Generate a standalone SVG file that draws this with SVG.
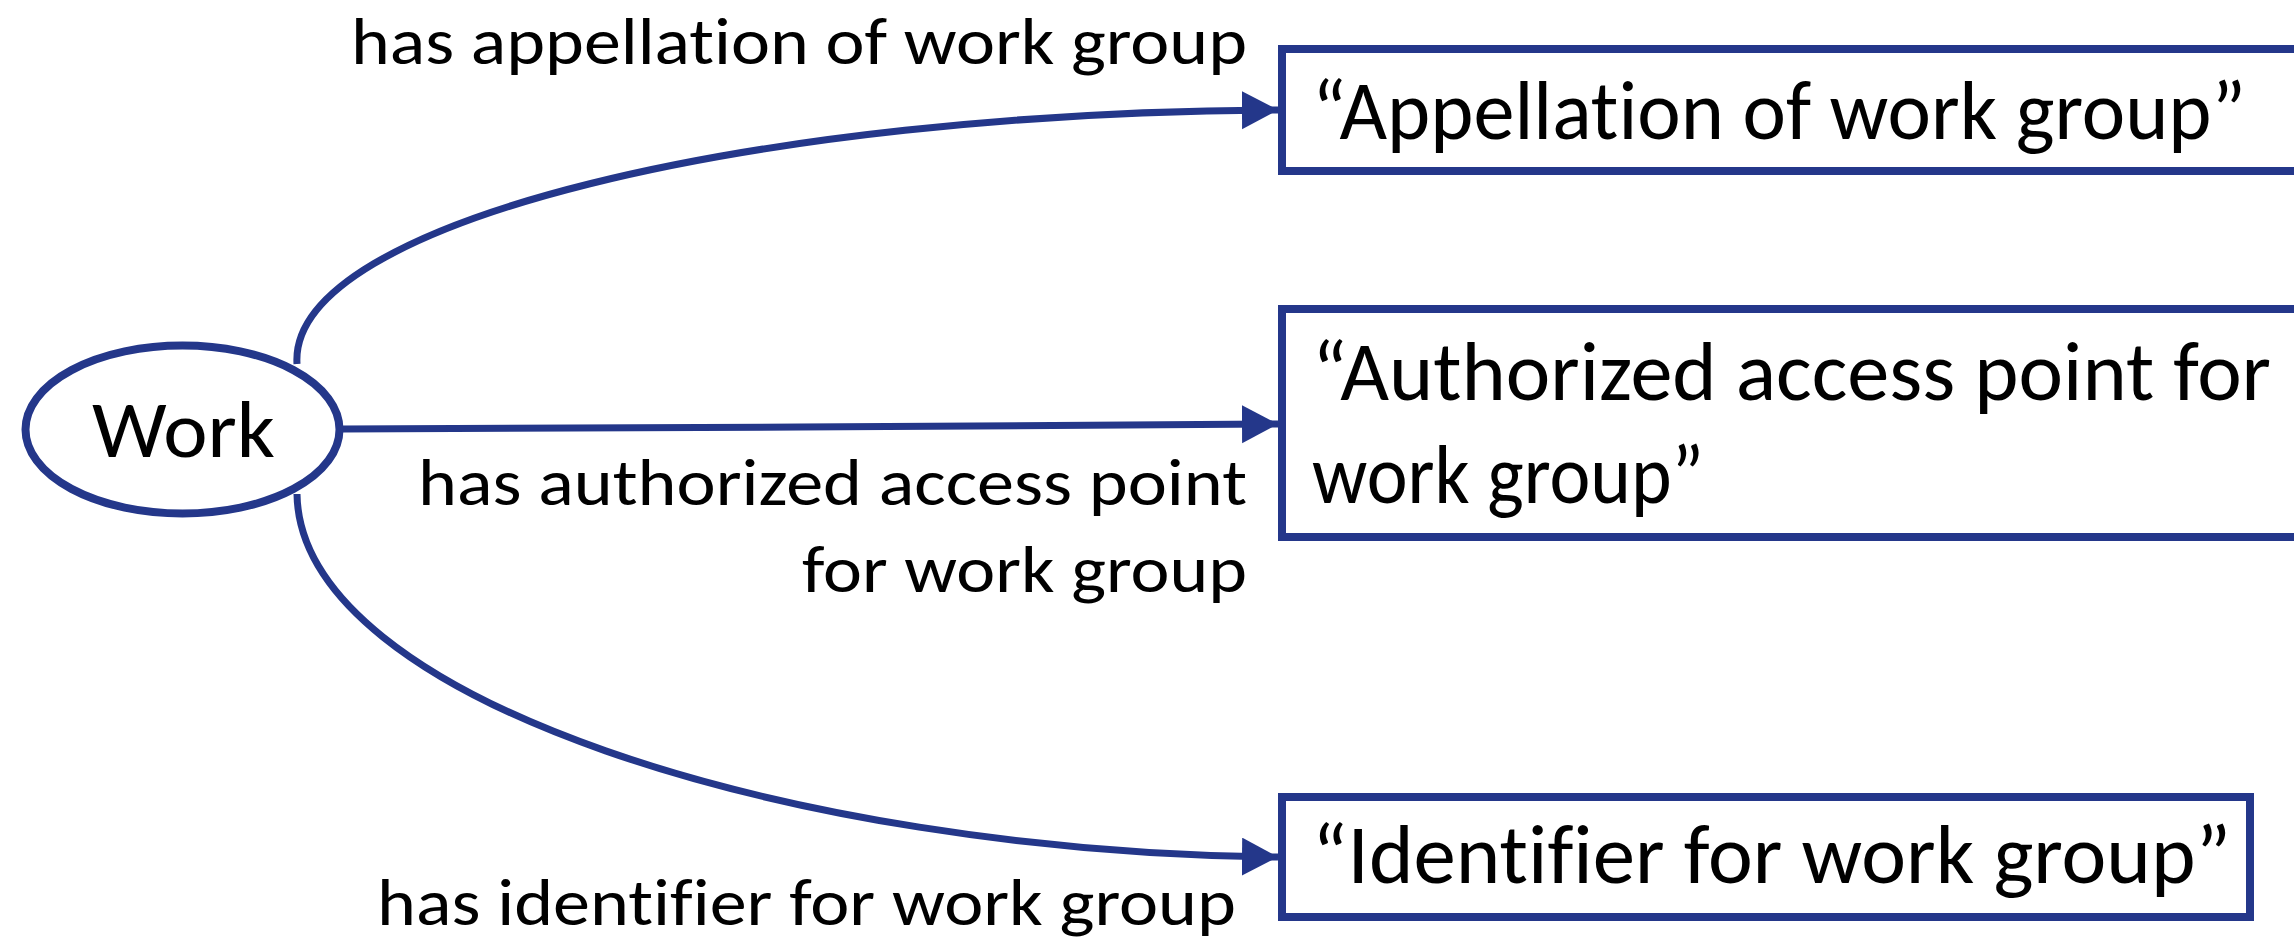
<svg xmlns="http://www.w3.org/2000/svg" width="2294" height="939" viewBox="0 0 2294 939">
<style>
.edge{fill:none;stroke:#24378A;stroke-width:7}
.box{fill:#ffffff;stroke:#24378A;stroke-width:8}
.t{font-family:Carlito,Lato,"Liberation Sans",Arial,sans-serif;fill:#000000;font-variant-ligatures:none}
.lbl{font-size:66px;text-anchor:end}
.big{font-size:84px}
</style>
<defs>
<marker id="arr" markerUnits="userSpaceOnUse" markerWidth="40" markerHeight="40" refX="36" refY="19" orient="auto">
<path d="M0,0 L36,19 L0,38 Z" fill="#24378A"/>
</marker>
</defs>
<rect width="2294" height="939" fill="#ffffff"/>
<g id="connectors">
<path class="edge" d="M297,364 C288,220 760,112 1278,110" marker-end="url(#arr)"/>
<path class="edge" d="M342,429 L800,427 L1278,424" marker-end="url(#arr)"/>
<path class="edge" d="M297,494 C300,700 790,852 1278,857" marker-end="url(#arr)"/>
</g>
<g id="labels">
<text class="t lbl" x="1247" y="64" textLength="896" lengthAdjust="spacingAndGlyphs">has appellation of work group</text>
<text class="t lbl" x="1247" y="505" textLength="829" lengthAdjust="spacingAndGlyphs">has authorized access point</text>
<text class="t lbl" x="1247" y="592" textLength="445" lengthAdjust="spacingAndGlyphs">for work group</text>
<text class="t lbl" x="1236" y="925" textLength="859" lengthAdjust="spacingAndGlyphs">has identifier for work group</text>
</g>
<g id="work">
<ellipse cx="182.5" cy="429.5" rx="157" ry="84" fill="#ffffff" stroke="#24378A" stroke-width="8"/>
<text class="t" x="92" y="457" font-size="80" textLength="183" lengthAdjust="spacingAndGlyphs">Work</text>
</g>
<g id="appellation">
<rect class="box" x="1282" y="49" width="1030" height="122"/>
<text class="t big" x="1312" y="139" textLength="934" lengthAdjust="spacingAndGlyphs">“Appellation of work group”</text>
</g>
<g id="authorized">
<rect class="box" x="1282" y="309" width="1030" height="228"/>
<text class="t big" x="1312" y="400" textLength="959" lengthAdjust="spacingAndGlyphs">“Authorized access point for</text>
<text class="t big" x="1312" y="503" textLength="392" lengthAdjust="spacingAndGlyphs">work group”</text>
</g>
<g id="identifier">
<rect class="box" x="1282" y="797" width="968" height="120"/>
<text class="t big" x="1312" y="883" textLength="919" lengthAdjust="spacingAndGlyphs">“Identifier for work group”</text>
</g>
</svg>
